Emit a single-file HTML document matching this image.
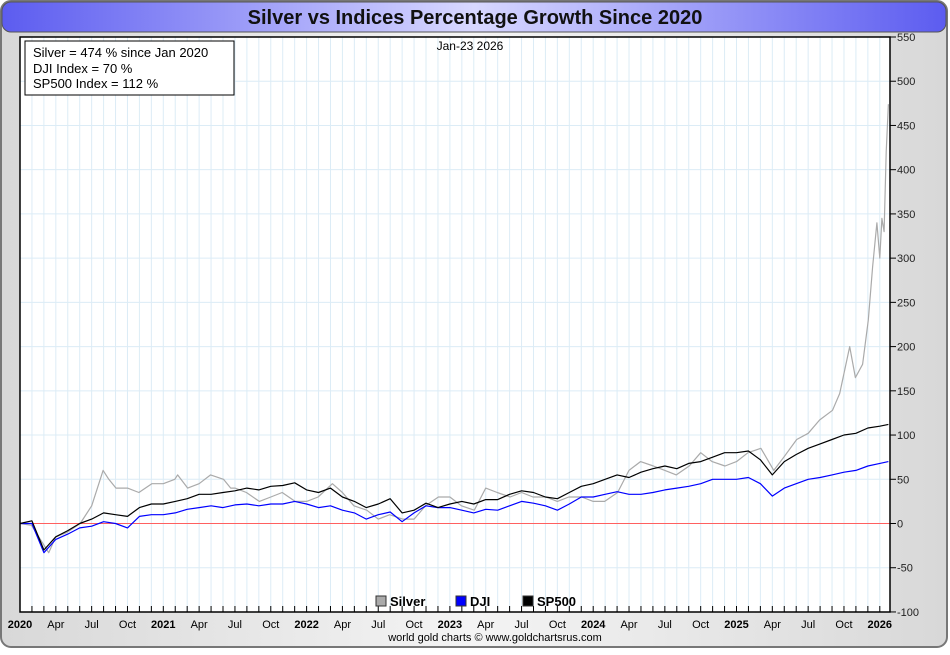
<!DOCTYPE html>
<html><head><meta charset="utf-8"><style>
body{margin:0;width:950px;height:650px;overflow:hidden;font-family:"Liberation Sans",sans-serif;background:#fff}
</style></head><body>
<svg id="c" width="950" height="650" xmlns="http://www.w3.org/2000/svg" font-family="Liberation Sans, sans-serif">
<defs>
<linearGradient id="tg" x1="0" x2="1"><stop offset="0" stop-color="#5c5cf0"/><stop offset="0.5" stop-color="#d8d8ff"/><stop offset="1" stop-color="#5c5cf0"/></linearGradient>
<linearGradient id="bg" x1="0" x2="1"><stop offset="0" stop-color="#d8d8d8"/><stop offset="0.5" stop-color="#f4f4f4"/><stop offset="1" stop-color="#d8d8d8"/></linearGradient>
</defs>
<rect x="1" y="1" width="946" height="646" rx="10" fill="url(#bg)" stroke="#777" stroke-width="2"/>
<rect x="2" y="2" width="944" height="30" rx="9" fill="url(#tg)" stroke="#555"/>
<text x="475" y="24" text-anchor="middle" font-size="20" font-weight="bold" fill="#111">Silver vs Indices Percentage Growth Since 2020</text>
<rect x="20" y="37" width="870" height="575" fill="#fff"/>
<g id="grid"></g>
<g id="series"></g>
<rect x="20" y="37" width="870" height="575" fill="none" stroke="#000" stroke-width="1.5"/>
<g id="axes"></g>
<text x="470" y="50" text-anchor="middle" font-size="12">Jan-23  2026</text>
<g>
<rect x="25" y="41" width="209" height="54" fill="#fff" stroke="#000"/>
<text x="33" y="57" font-size="13">Silver = 474 % since Jan 2020</text>
<text x="33" y="73" font-size="13">DJI Index = 70 %</text>
<text x="33" y="88" font-size="13">SP500 Index = 112 %</text>
</g>
<g font-size="13" font-weight="bold">
<rect x="376" y="596" width="10" height="10" fill="#aaa" stroke="#333"/><text x="390" y="606">Silver</text>
<rect x="456" y="596" width="10" height="10" fill="#0000ff" stroke="#333"/><text x="470" y="606">DJI</text>
<rect x="523" y="596" width="10" height="10" fill="#000" stroke="#333"/><text x="537" y="606">SP500</text>
</g>
<text x="495" y="641" text-anchor="middle" font-size="11">world gold charts © www.goldchartsrus.com</text>
</svg>
<script>
const monthDates = [];
for (let i = 0; i <= 72; i++) monthDates.push(2020 + i / 12);
monthDates.push(2026.06);
const djiValues = [0,0,-33,-18,-12,-5,-3,2,0,-5,8,10, 10,12,16,18,20,18,21,22,20,22,22,25, 22,18,20,15,12,5,10,13,2,12,20,18, 18,15,12,16,15,20,25,23,20,15,22,30, 30,33,36,33,33,35,38,40,42,45,50,50, 50,52,45,31,40,45,50,52,55,58,60,65, 68,70];
const spValues = [0,3,-30,-15,-8,0,5,12,10,8,18,22, 22,25,28,33,33,35,37,40,38,42,43,46, 38,35,40,30,25,18,22,28,12,15,23,18, 22,25,22,27,27,33,37,35,30,28,35,42, 45,50,55,52,58,62,65,62,68,70,75,80, 80,82,72,55,70,78,85,90,95,100,102,108, 110,112];
const silverDates = [2020,2020.08,2020.2,2020.25,2020.33,2020.42,2020.5,2020.58,2020.62,2020.67,2020.75,2020.83,2020.92,
2021,2021.08,2021.1,2021.17,2021.25,2021.33,2021.42,2021.47,2021.5,2021.58,2021.67,2021.75,2021.83,2021.92,
2022,2022.08,2022.18,2022.25,2022.33,2022.42,2022.5,2022.58,2022.67,2022.75,2022.83,2022.92,
2023,2023.08,2023.17,2023.25,2023.33,2023.42,2023.5,2023.58,2023.67,2023.75,2023.83,2023.92,
2024,2024.08,2024.17,2024.25,2024.33,2024.42,2024.5,2024.58,2024.67,2024.75,2024.83,2024.92,
2025,2025.08,2025.17,2025.26,2025.33,2025.42,2025.5,2025.58,2025.67,2025.72,2025.79,2025.83,2025.88,2025.92,2025.95,2025.98,2026.0,2026.015,2026.03,2026.045,2026.06];
const silverValues = [0,-2,-33,-15,-10,0,20,60,50,40,40,35,45,
45,50,55,40,45,55,50,40,40,35,25,30,35,25,
25,30,45,35,20,15,5,10,5,5,20,30,
30,20,15,40,35,30,35,30,30,25,30,30,
25,25,35,60,70,65,60,55,65,80,70,65,
70,80,85,60,75,95,102,117,128,147,200,165,180,230,290,340,300,345,330,420,474];
const yTicks = [-100,-50,0,50,100,150,200,250,300,350,400,450,500,550];
const xLabels = ["2020","Apr","Jul","Oct","2021","Apr","Jul","Oct","2022","Apr","Jul","Oct","2023","Apr","Jul","Oct","2024","Apr","Jul","Oct","2025","Apr","Jul","Oct","2026"];

const NS = "http://www.w3.org/2000/svg";
const X0 = 20, PXY = 143.3, Y0 = 523.5, PPU = 486.5 / 550;
const xs = t => X0 + (t - 2020) * PXY;
const ys = v => Y0 - v * PPU;
function mk(tag, attrs, parent) { const e = document.createElementNS(NS, tag); for (const k in attrs) e.setAttribute(k, attrs[k]); parent.appendChild(e); return e; }
const grid = document.getElementById('grid'), axes = document.getElementById('axes'), ser = document.getElementById('series');
for (let m = 1; m < 73; m++) {
  const x = xs(2020 + m / 12);
  if (x > 889) break;
  const l = mk('line', {x1: x, x2: x, y1: 37, y2: 612, stroke: '#dcecf6', 'stroke-width': 1}, grid);
  
  
  const tk = mk('line', {x1: x, x2: x, y1: 606, y2: 612, stroke: '#000'}, axes);
  
  
}
yTicks.forEach(v => {
  const y = ys(v);
  const l = mk('line', {x1: 20, x2: 890, y1: y, y2: y, stroke: '#dcecf6'}, grid);
  
  
  const tk = mk('line', {x1: 890, x2: 896, y1: y, y2: y, stroke: '#000'}, axes);
  
  
  const t = mk('text', {x: 897, y: y + 4, 'font-size': 11, fill: '#222'}, axes);
  
  
  t.textContent = v;
});
xLabels.forEach((s, i) => {
  const x = xs(2020 + i * 0.25);
  const yr = /^\d{4}$/.test(s);
  const t = mk('text', {x: x, y: 628, 'font-size': 11, 'text-anchor': 'middle', 'font-weight': yr ? 'bold' : 'normal'}, axes);
  
  
  t.textContent = s;
});
const zl = mk('line', {x1: 20, x2: 890, y1: ys(0), y2: ys(0), stroke: '#ff6060', 'stroke-width': 1}, ser);


function line(dates, vals, color, name) {
  const d = vals.map((v, i) => (i ? 'L' : 'M') + xs(dates[i]).toFixed(1) + ',' + ys(v).toFixed(1)).join('');
  const p = mk('path', {d: d, fill: 'none', stroke: color, 'stroke-width': 1.2, 'stroke-linejoin': 'round'}, ser);
  
  
}
line(silverDates, silverValues, '#aaaaaa', 'silver-line');
line(monthDates, djiValues, '#0000ff', 'dji-line');
line(monthDates, spValues, '#000000', 'sp500-line');
</script>
</body></html>
